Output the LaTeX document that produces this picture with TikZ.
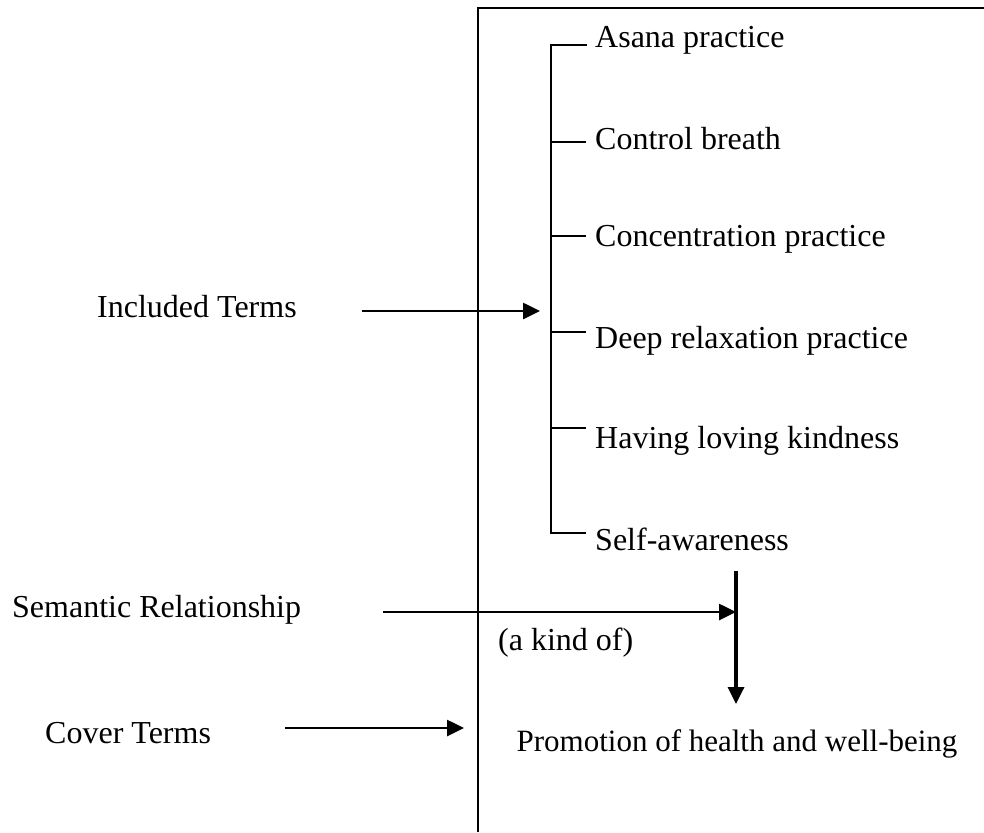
\documentclass[tikz,border=0pt]{standalone}
\usepackage{fontspec}
\setmainfont{Liberation Serif}
\usetikzlibrary{arrows.meta}

\tikzset{
	term/.style={anchor=base west, inner sep=0pt, font=\fontsize{32}{38}\selectfont},
	pointer/.style={line width=2.6pt, -{Triangle[length=17pt,width=16pt]}},
}

\begin{document}
\begin{tikzpicture}[x=1pt, y=-1pt]

	\useasboundingbox (0,0) rectangle (984,832);

	\draw[line width=2pt] (984,8) -- (478,8) -- (478,832);

	\draw[line width=1.4pt] (587,45) -- (551,45) -- (551,533) -- (586,533);
	\draw[line width=1.4pt] (551,142) -- (586,142);
	\draw[line width=1.4pt] (551,236) -- (586,236);
	\draw[line width=1.4pt] (551,332) -- (586,332);
	\draw[line width=1.4pt] (551,428) -- (586,428);

	\node[term] (asana) at (595,48) {Asana practice};
	\node[term] (breath) at (595,149) {Control breath};
	\node[term] (concentration) at (595,246) {Concentration practice};
	\node[term] (relaxation) at (595,348) {Deep relaxation practice};
	\node[term] (kindness) at (595,448) {Having loving kindness};
	\node[term] (awareness) at (595,550) {Self-awareness};

	\node[term] (included) at (97,317) {Included Terms};
	\node[term] (semantic) at (12,617) {Semantic Relationship};
	\node[term] (cover) at (45,743) {Cover Terms};

	\node[term] (kindof) at (498,650) {(a kind of)};
	\node[term, anchor=base, font=\fontsize{31}{37}\selectfont] (promotion) at (737,751) {Promotion of health and well-being};

	\coordinate (inc-a) at (362,311);
	\coordinate (inc-b) at (540,311);
	\coordinate (sem-a) at (383,612);
	\coordinate (sem-b) at (736,612);
	\coordinate (cov-a) at (285,728);
	\coordinate (cov-b) at (464,728);
	\coordinate (down-a) at (736,571);
	\coordinate (down-b) at (736,704);

	\draw[pointer] (inc-a) -- (inc-b);
	\draw[pointer] (sem-a) -- (sem-b);
	\draw[pointer] (cov-a) -- (cov-b);
	\draw[pointer, line width=3.4pt] (down-a) -- (down-b);

\end{tikzpicture}
\end{document}
